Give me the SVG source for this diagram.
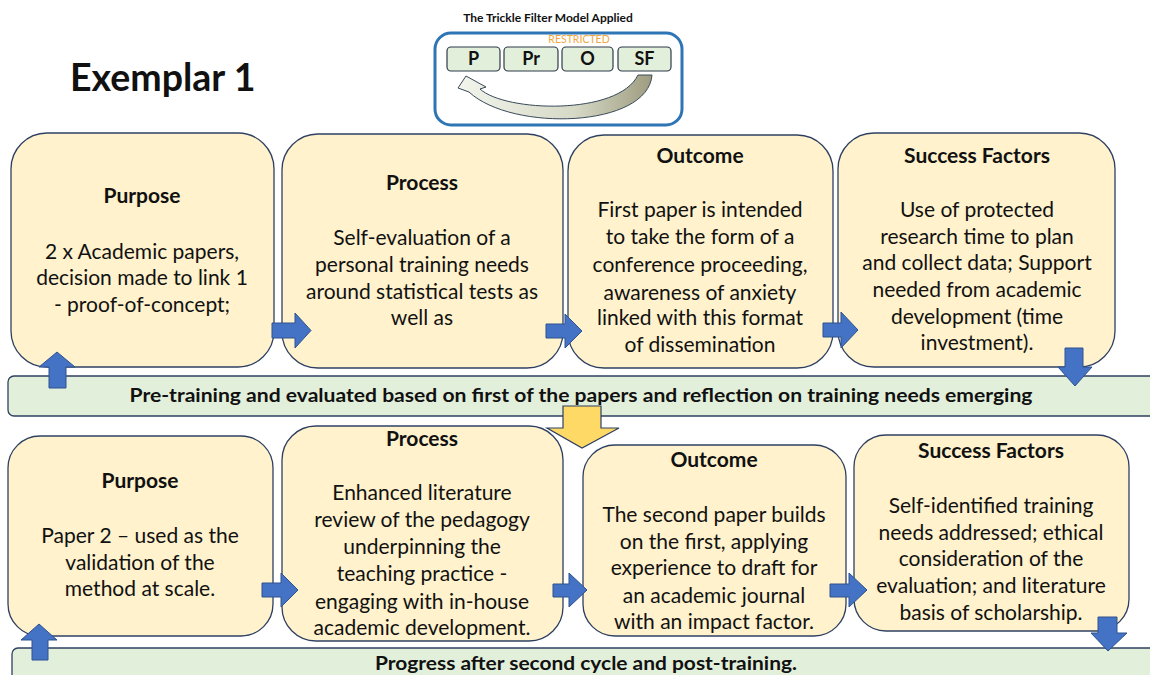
<svg xmlns="http://www.w3.org/2000/svg" width="1150" height="675" viewBox="0 0 1150 675">
<defs>
<style>
.box{fill:#FFF2CC;stroke:#2E4061;stroke-width:1.3}
.band{fill:#E2EFDA;stroke:#2E4061;stroke-width:1.3}
.arr{fill:#4472C4;stroke:#2F528F;stroke-width:1}
.yarr{fill:#FFD966;stroke:#2E4061;stroke-width:1.2}
.h{font-family:Lato,"Liberation Sans",sans-serif;font-weight:bold;font-size:21px;fill:#111;text-anchor:middle}
.t{font-family:Lato,"Liberation Sans",sans-serif;font-size:21px;fill:#111;text-anchor:middle}
.bt{font-family:Lato,"Liberation Sans",sans-serif;font-weight:bold;font-size:19px;fill:#111;text-anchor:middle}
.sm{fill:#E2EFDA;stroke:#2E3A4A;stroke-width:1.2}
.smt{font-family:Lato,"Liberation Sans",sans-serif;font-weight:bold;font-size:18px;fill:#111;text-anchor:middle}
</style>
<linearGradient id="cg" x1="0" y1="0" x2="1" y2="0">
<stop offset="0" stop-color="#F2F5EC"/>
<stop offset="0.6" stop-color="#D6D9C6"/>
<stop offset="1" stop-color="#9E9C80"/>
</linearGradient>
</defs>
<rect width="1150" height="675" fill="#FFFFFF"/>

<text x="70" y="91" font-family="Lato,'Liberation Sans',sans-serif" font-weight="bold" font-size="37.5" fill="#111">Exemplar 1</text>

<g id="model">
<text x="548" y="22" font-family="Lato,'Liberation Sans',sans-serif" font-weight="bold" font-size="12" fill="#111" text-anchor="middle">The Trickle Filter Model Applied</text>
<rect x="435" y="33" width="247" height="92" rx="16" fill="#FFFFFF" stroke="#2E75B6" stroke-width="3"/>
<text x="579" y="43" font-family="Lato,'Liberation Sans',sans-serif" font-size="10.5" fill="#F4A742" text-anchor="middle">RESTRICTED</text>
<rect class="sm" x="447" y="47" width="53" height="24" rx="4"/>
<text class="smt" x="473.5" y="65">P</text>
<rect class="sm" x="504" y="47" width="54" height="24" rx="4"/>
<text class="smt" x="531" y="65">Pr</text>
<rect class="sm" x="562" y="47" width="51" height="24" rx="4"/>
<text class="smt" x="587.5" y="65">O</text>
<rect class="sm" x="618" y="47" width="53" height="24" rx="4"/>
<text class="smt" x="644.5" y="65">SF</text>
<path d="M466 76 L486 87 L480 89 C505 112 618 116 638 75 L652 75 C648 128 512 132 469 92 L458 88 Z" fill="url(#cg)" stroke="#3A4A5A" stroke-width="1"/>
</g>

<g id="band1">
<rect class="band" x="8" y="376" width="1160" height="40" rx="6"/>
<text class="bt" x="581" y="402" textLength="903" lengthAdjust="spacingAndGlyphs">Pre-training and evaluated based on first of the papers and reflection on training needs emerging</text>
</g>

<g id="band2">
<rect class="band" x="12" y="648" width="1160" height="45" rx="6"/>
<text class="bt" x="586" y="670" textLength="422" lengthAdjust="spacingAndGlyphs">Progress after second cycle and post-training.</text>
</g>

<g id="purpose1">
<rect class="box" x="11" y="133" width="263" height="234" rx="36"/>
<text class="h" x="142" y="203">Purpose</text>
<text class="t" x="142" y="259">2 x Academic papers,</text>
<text class="t" x="142" y="285">decision made to link 1</text>
<text class="t" x="142" y="312">- proof-of-concept;</text>
</g>

<g id="process1">
<rect class="box" x="282" y="134" width="281" height="234" rx="36"/>
<text class="h" x="422" y="190">Process</text>
<text class="t" x="422" y="245">Self-evaluation of a</text>
<text class="t" x="422" y="272">personal training needs</text>
<text class="t" x="422" y="299">around statistical tests as</text>
<text class="t" x="422" y="325">well as</text>
</g>

<g id="outcome1">
<rect class="box" x="568" y="135" width="265" height="233" rx="36"/>
<text class="h" x="700" y="163">Outcome</text>
<text class="t" x="700" y="217">First paper is intended</text>
<text class="t" x="700" y="244">to take the form of a</text>
<text class="t" x="700" y="272">conference proceeding,</text>
<text class="t" x="700" y="300">awareness of anxiety</text>
<text class="t" x="700" y="325">linked with this format</text>
<text class="t" x="700" y="352">of dissemination</text>
</g>

<g id="success1">
<rect class="box" x="838" y="133" width="277" height="234" rx="36"/>
<text class="h" x="977" y="163">Success Factors</text>
<text class="t" x="977" y="217">Use of protected</text>
<text class="t" x="977" y="244">research time to plan</text>
<text class="t" x="977" y="270">and collect data; Support</text>
<text class="t" x="977" y="297">needed from academic</text>
<text class="t" x="977" y="324">development (time</text>
<text class="t" x="977" y="350">investment).</text>
</g>

<g id="purpose2">
<rect class="box" x="8" y="436" width="265" height="200" rx="32"/>
<text class="h" x="140" y="488">Purpose</text>
<text class="t" x="140" y="543">Paper 2 – used as the</text>
<text class="t" x="140" y="570">validation of the</text>
<text class="t" x="140" y="596">method at scale.</text>
</g>

<g id="process2">
<rect class="box" x="282" y="426" width="281" height="215" rx="34"/>
<text class="h" x="422" y="446">Process</text>
<text class="t" x="422" y="500">Enhanced literature</text>
<text class="t" x="422" y="527">review of the pedagogy</text>
<text class="t" x="422" y="554">underpinning the</text>
<text class="t" x="422" y="581">teaching practice -</text>
<text class="t" x="422" y="609">engaging with in-house</text>
<text class="t" x="422" y="635">academic development.</text>
</g>

<g id="outcome2">
<rect class="box" x="583" y="445" width="263" height="191" rx="32"/>
<text class="h" x="714" y="467">Outcome</text>
<text class="t" x="714" y="522">The second paper builds</text>
<text class="t" x="714" y="549">on the first, applying</text>
<text class="t" x="714" y="575">experience to draft for</text>
<text class="t" x="714" y="603">an academic journal</text>
<text class="t" x="714" y="629">with an impact factor.</text>
</g>

<g id="success2">
<rect class="box" x="854" y="435" width="275" height="196" rx="32"/>
<text class="h" x="991" y="458">Success Factors</text>
<text class="t" x="991" y="513">Self-identified training</text>
<text class="t" x="991" y="540">needs addressed; ethical</text>
<text class="t" x="991" y="566">consideration of the</text>
<text class="t" x="991" y="593">evaluation; and literature</text>
<text class="t" x="991" y="620">basis of scholarship.</text>
</g>

<g id="connectors">
<path class="arr" d="M272 323 H295 V313 L311 330.5 L295 348 V338 H272 Z"/>
<path class="arr" d="M546 324 H565 V314 L582 331 L565 348 V338 H546 Z"/>
<path class="arr" d="M823 323 H841 V312 L858 330 L841 348 V337 H823 Z"/>
<path class="arr" d="M49 388 V367 H39 L57 352 L75 367 H66 V388 Z"/>
<path class="arr" d="M1065 348 H1083 V367 H1092 L1075 386 L1058 367 H1065 Z"/>
<path class="yarr" d="M563 406 H601 V428 H619 L582 448 L547 428 H563 Z"/>
<path class="arr" d="M262 583 H281 V573 L298 590 L281 607 V597 H262 Z"/>
<path class="arr" d="M553 584 H569 V573 L587 590 L569 607 V597 H553 Z"/>
<path class="arr" d="M830 584 H849 V573 L867 590 L849 607 V597 H830 Z"/>
<path class="arr" d="M32 660 V640 H21 L39 624 L57 640 H48 V660 Z"/>
<path class="arr" d="M1098 617 H1117 V633 H1127 L1108 651 L1091 633 H1098 Z"/>
</g>
</svg>
